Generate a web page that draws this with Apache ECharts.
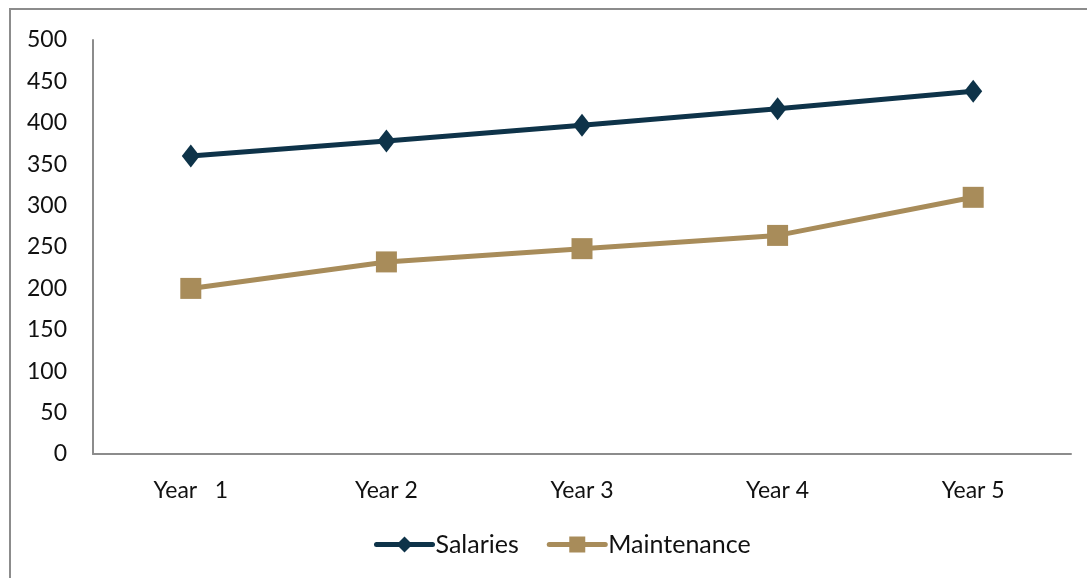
<!DOCTYPE html>
<html>
<head>
<meta charset="utf-8">
<script src="https://cdn.jsdelivr.net/npm/echarts@6/dist/echarts.min.js"></script>
<style>
  html, body { margin: 0; padding: 0; background: #fff; }
  #chart { width: 1087px; height: 578px; }
</style>
</head>
<body>
<div id="chart"></div>
<script>
// Projected operating costs by year
const years = ['Year   1', 'Year 2', 'Year 3', 'Year 4', 'Year 5'];
const salaries = [360, 378, 397, 417, 438];
const maintenance = [200, 232, 248, 264, 310];
const yTicks = { min: 0, max: 500, interval: 50 };

const FONT = 'Lato, "Open Sans", sans-serif';
const NAVY = '#0e3349';
const TAN = '#a88c5a';
const chart = echarts.init(document.getElementById('chart'), null, { renderer: 'canvas' });

chart.setOption({
  backgroundColor: '#ffffff',
  animation: false,
  graphic: [{
    type: 'rect',
    shape: { x: 10, y: 9, width: 1200, height: 700 },
    style: { fill: 'none', stroke: '#8c8c8c', lineWidth: 2 },
    silent: true
  }],
  grid: { left: 93, top: 40, right: 16, bottom: 124, containLabel: false },
  legend: {
    bottom: 16,
    left: 369,
    itemWidth: 56,
    itemHeight: 20,
    itemGap: 28,
    lineStyle: { width: 5, cap: 'round' },
    textStyle: { fontFamily: FONT, fontSize: 25, color: '#111', padding: [0, 0, 0, -2] },
    data: ['Salaries', 'Maintenance']
  },
  xAxis: {
    type: 'category',
    data: years,
    boundaryGap: true,
    axisLine: { lineStyle: { color: '#8c8c8c', width: 2 } },
    axisTick: { show: false },
    axisLabel: { fontFamily: FONT, fontSize: 23, color: '#111', margin: 25 }
  },
  yAxis: {
    type: 'value',
    min: yTicks.min,
    max: yTicks.max,
    interval: yTicks.interval,
    axisLine: { show: true, lineStyle: { color: '#8c8c8c', width: 2 } },
    axisTick: { show: false },
    splitLine: { show: false },
    axisLabel: { fontFamily: FONT, fontSize: 23, color: '#111', margin: 26 }
  },
  series: [
    {
      name: 'Salaries',
      type: 'line',
      data: salaries,
      symbol: 'diamond',
      symbolSize: [18, 23],
      lineStyle: { color: NAVY, width: 5 },
      itemStyle: { color: NAVY }
    },
    {
      name: 'Maintenance',
      type: 'line',
      data: maintenance,
      symbol: 'rect',
      symbolSize: 21,
      lineStyle: { color: TAN, width: 5 },
      itemStyle: { color: TAN }
    }
  ]
});
</script>
</body>
</html>
